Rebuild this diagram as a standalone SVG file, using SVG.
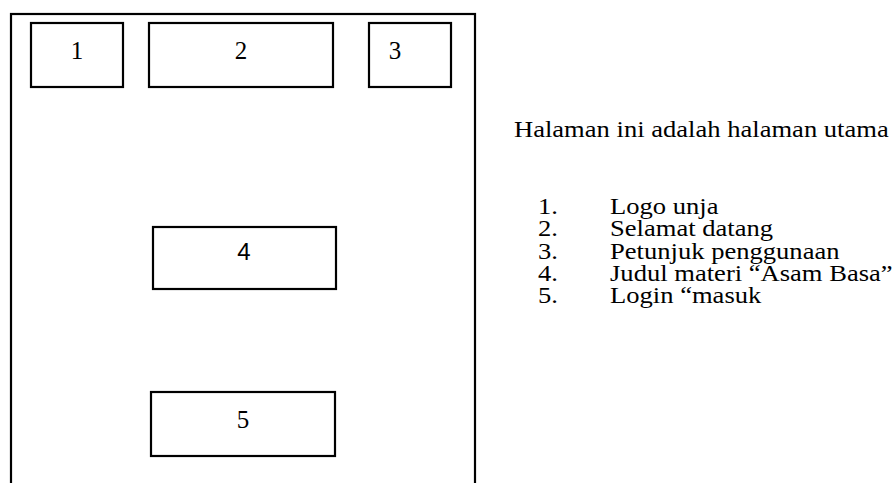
<svg xmlns="http://www.w3.org/2000/svg" width="896" height="483" viewBox="0 0 896 483">
  <style>
    .frame { fill: #ffffff; stroke: #000000; stroke-width: 2.2; }
    .box { fill: #ffffff; stroke: #000000; stroke-width: 2.2; }
    .num { font-family: "Liberation Serif", "Times New Roman", serif; font-size: 25px; fill: #000000; text-anchor: middle; }
    .num-sans { font-family: "Liberation Sans", Arial, sans-serif; font-size: 24px; fill: #000000; text-anchor: middle; }
    .note { font-family: "Liberation Serif", "Times New Roman", serif; font-size: 23px; fill: #000000; }
  </style>
  <rect width="896" height="483" fill="#ffffff"/>

  <!-- page frame -->
  <g id="page">
    <rect class="frame" x="11" y="14" width="464" height="490"/>
  </g>

  <g id="node-1">
    <rect class="box" x="31" y="23" width="92" height="64"/>
    <text class="num" x="77" y="58.5">1</text>
  </g>
  <g id="node-2">
    <rect class="box" x="149" y="23" width="184" height="64"/>
    <text class="num" x="241" y="58.5">2</text>
  </g>
  <g id="node-3">
    <rect class="box" x="369" y="23" width="82" height="64"/>
    <text class="num" x="395" y="58.5">3</text>
  </g>
  <g id="node-4">
    <rect class="box" x="153" y="227" width="183" height="62"/>
    <text class="num-sans" x="244" y="260">4</text>
  </g>
  <g id="node-5">
    <rect class="box" x="151" y="392" width="184" height="64"/>
    <text class="num" x="243" y="428">5</text>
  </g>

  <g id="connectors"></g>

  <!-- legend, glyphs widened slightly -->
  <g id="legend" transform="scale(1.156 1)">
    <text class="note" x="444.6" y="137">Halaman ini adalah halaman utama</text>
    <text class="note" x="465.4" y="214">1.</text>
    <text class="note" x="527.7" y="214">Logo unja</text>
    <text class="note" x="465.4" y="236.3">2.</text>
    <text class="note" x="527.7" y="236.3">Selamat datang</text>
    <text class="note" x="465.4" y="258.6">3.</text>
    <text class="note" x="527.7" y="258.6">Petunjuk penggunaan</text>
    <text class="note" x="465.4" y="280.9">4.</text>
    <text class="note" x="527.7" y="280.9">Judul materi “Asam Basa”</text>
    <text class="note" x="465.4" y="303.2">5.</text>
    <text class="note" x="527.7" y="303.2">Login “masuk</text>
  </g>
</svg>
